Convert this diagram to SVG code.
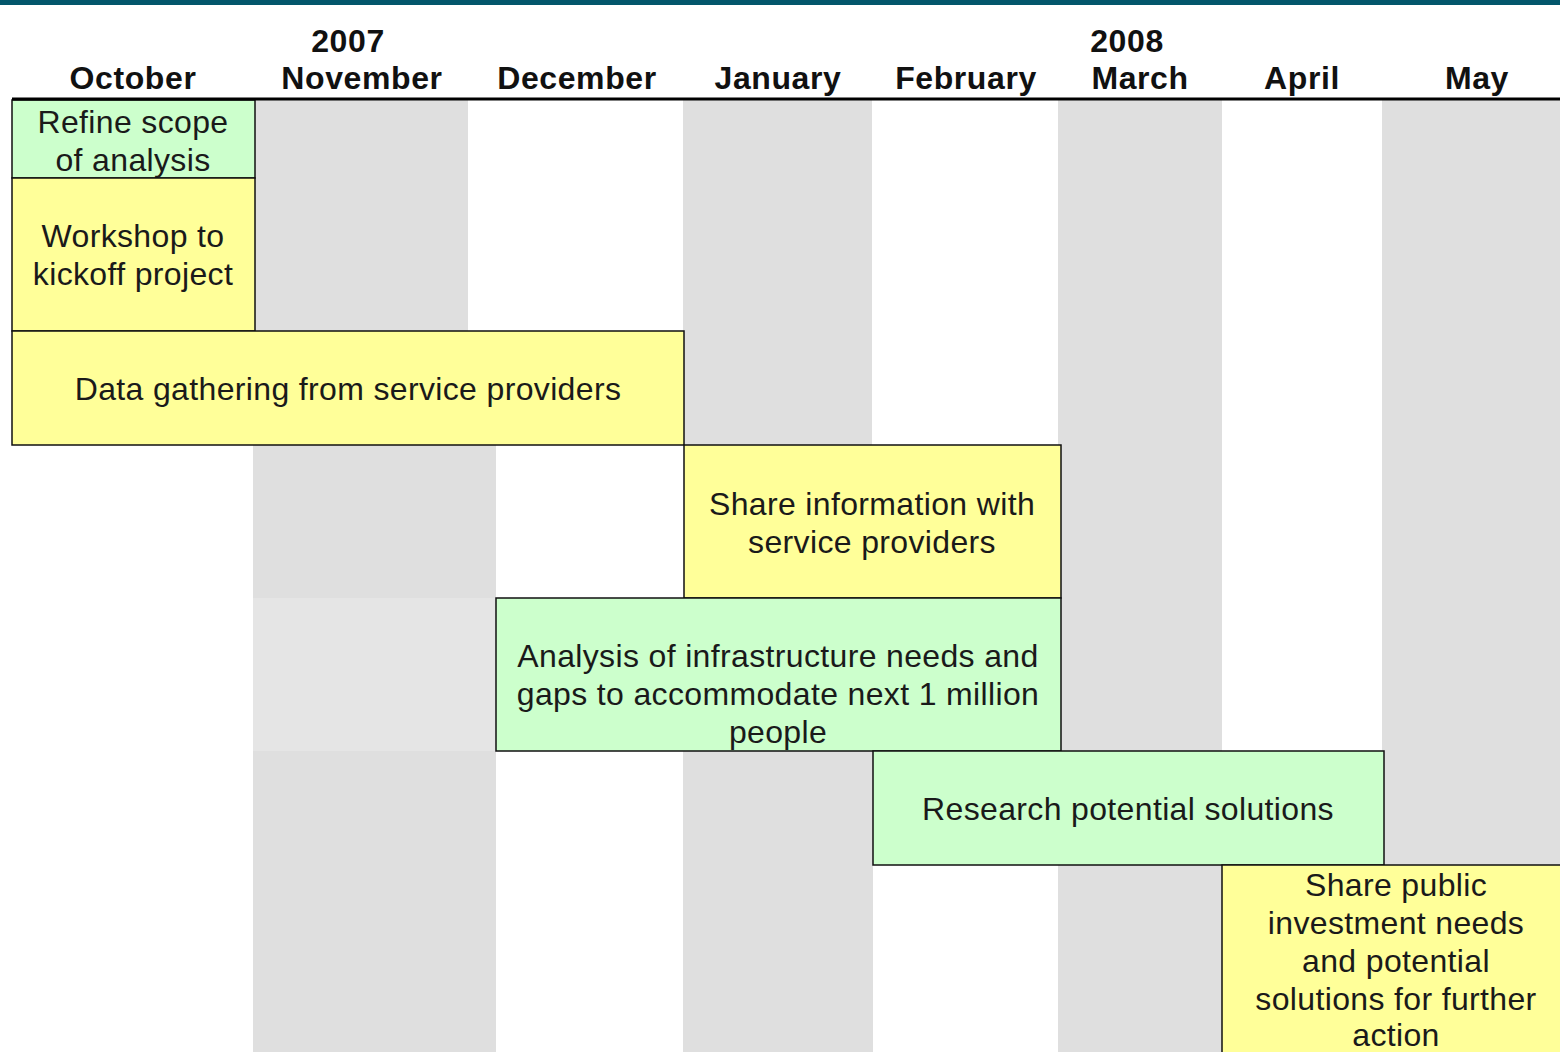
<svg xmlns="http://www.w3.org/2000/svg" width="1560" height="1052" viewBox="0 0 1560 1052">
<style>
.hdr{font-family:"Liberation Sans",Arial,sans-serif;font-weight:bold;font-size:32px;letter-spacing:0.6px;fill:#111;text-anchor:middle}
.lbl{font-family:"Liberation Sans",Arial,sans-serif;font-size:32px;letter-spacing:0.35px;fill:#1a1a1a;text-anchor:middle}
.g{fill:#dfdfdf}
.gl{fill:#e5e5e5}
.y{fill:#ffff99;stroke:#111;stroke-width:1.5}
.gr{fill:#ccffcc;stroke:#111;stroke-width:1.5}
</style>
<rect x="0" y="0" width="1560" height="1052" fill="#ffffff"/>
<rect x="0" y="0" width="1560" height="5" fill="#03566b"/>
<g id="stripes">
<rect class="g" x="255" y="100" width="213" height="231"/>
<rect class="g" x="683" y="100" width="189" height="345"/>
<rect class="g" x="1058" y="100" width="164" height="651"/>
<rect class="g" x="1382" y="100" width="178" height="765"/>
<rect class="g" x="253" y="445" width="243" height="153"/>
<rect class="gl" x="253" y="598" width="243" height="153"/>
<rect class="g" x="253" y="751" width="243" height="301"/>
<rect class="g" x="683" y="751" width="190" height="301"/>
<rect class="g" x="1058" y="865" width="164" height="187"/>
</g>
<g id="header">
<text class="hdr" x="348" y="52">2007</text>
<text class="hdr" x="1127" y="52">2008</text>
<text class="hdr" x="133" y="89">October</text>
<text class="hdr" x="362" y="89">November</text>
<text class="hdr" x="577" y="89">December</text>
<text class="hdr" x="778" y="89">January</text>
<text class="hdr" x="966" y="89">February</text>
<text class="hdr" x="1140" y="89">March</text>
<text class="hdr" x="1302" y="89">April</text>
<text class="hdr" x="1477" y="89">May</text>
</g>
<g id="refine">
<rect class="gr" x="12" y="100" width="243" height="78"/>
<text class="lbl" x="133" y="133">Refine scope</text>
<text class="lbl" x="133" y="171">of analysis</text>
</g>
<g id="workshop">
<rect class="y" x="12" y="178" width="243" height="153"/>
<text class="lbl" x="133" y="247">Workshop to</text>
<text class="lbl" x="133" y="285">kickoff project</text>
</g>
<g id="datagathering">
<rect class="y" x="12" y="331" width="672" height="114"/>
<text class="lbl" x="348" y="400">Data gathering from service providers</text>
</g>
<g id="shareinfo">
<rect class="y" x="684" y="445" width="377" height="153"/>
<text class="lbl" x="872" y="515">Share information with</text>
<text class="lbl" x="872" y="553">service providers</text>
</g>
<g id="analysis">
<rect class="gr" x="496" y="598" width="565" height="153"/>
<text class="lbl" x="778" y="667">Analysis of infrastructure needs and</text>
<text class="lbl" x="778" y="705">gaps to accommodate next 1 million</text>
<text class="lbl" x="778" y="743">people</text>
</g>
<g id="research">
<rect class="gr" x="873" y="751" width="511" height="114"/>
<text class="lbl" x="1128" y="820">Research potential solutions</text>
</g>
<g id="sharepublic">
<rect class="y" x="1222" y="865" width="360" height="200"/>
<text class="lbl" x="1396" y="896">Share public</text>
<text class="lbl" x="1396" y="934">investment needs</text>
<text class="lbl" x="1396" y="972">and potential</text>
<text class="lbl" x="1396" y="1010">solutions for further</text>
<text class="lbl" x="1396" y="1046">action</text>
</g>
<g id="connectors">
<line x1="12" y1="99" x2="1560" y2="99" stroke="#000" stroke-width="3"/>
</g>
</svg>
